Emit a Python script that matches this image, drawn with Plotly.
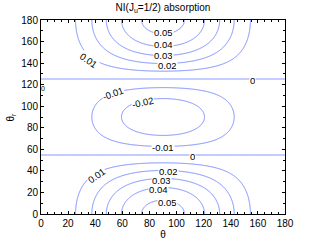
import numpy as np
import plotly.graph_objects as go

# Field: NI(J_u=1/2) absorption as a function of theta (x) and theta_r (y)
amplitude = 0.054
theta = np.linspace(0, 180, 361)
theta_r = np.linspace(0, 180, 361)
levels_start, levels_end, levels_step = -0.02, 0.05, 0.01
x_ticks = [0, 20, 40, 60, 80, 100, 120, 140, 160, 180]
y_ticks = [0, 20, 40, 60, 80, 100, 120, 140, 160, 180]

# contour label texts with where they sit on the plot (theta, theta_r, angle)
label_text = ["0.05", "0.04", "0.03", "0.02", "0.01", "0", "-0.01", "-0.02", "-0.01", "0",
              "0.01", "0.02", "0.03", "0.04", "0.05"]
label_x = [90, 90, 90, 93, 35, 156, 53, 75, 90, 112, 41, 94, 89, 87, 93]
label_y = [168, 157, 147.5, 138, 142, 124.3, 112, 103, 62, 53.8, 36, 39.5, 31, 22.5, 11]
label_angle = [0, 0, 0, 0, 35, 0, -20, -13, 0, 0, -35, 0, 0, 0, 0]

T, TR = np.meshgrid(np.radians(theta), np.radians(theta_r))
z = amplitude * (np.sin(T) ** 2 + 1e-9) * (3 * np.cos(TR) ** 2 - 1) / 2

line_col = "#7a8cff"
fig = go.Figure(go.Contour(
    x=theta, y=theta_r, z=z,
    contours=dict(start=levels_start, end=levels_end, size=levels_step,
                  coloring="lines", showlabels=False),
    colorscale=[[0, line_col], [1, line_col]],
    showscale=False, line=dict(width=1, dash="solid"),
    hoverinfo="skip",
))

for t, x, y, a in zip(label_text, label_x, label_y, label_angle):
    fig.add_annotation(x=x, y=y, text=t, showarrow=False, textangle=a,
                       bgcolor="white", borderpad=0, height=7 if a == 0 else None,
                       font=dict(size=9.5, family="Liberation Sans", color="black"))
fig.add_annotation(x=1.5, y=117, text="0", showarrow=False, height=6,
                   font=dict(size=7, family="Liberation Sans", color="black"))

# y-axis title placed as text left of the tick labels
fig.add_annotation(xref="paper", yref="paper", x=-0.125, y=0.5, text="θ<sub>r</sub>",
                   showarrow=False, textangle=-90, xanchor="center", yanchor="middle",
                   font=dict(size=10, family="Liberation Sans", color="black"))

axis_common = dict(
    showgrid=False, zeroline=False, showline=True, linecolor="black", linewidth=1,
    mirror="ticks", ticks="inside", ticklen=3, tickcolor="black", automargin=False,
    tickfont=dict(size=10, family="Liberation Sans", color="black"),
)
fig.update_xaxes(range=[0, 180], tickvals=x_ticks,
                 minor=dict(dtick=5, ticks="inside", ticklen=2, tickcolor="black"),
                 title=dict(text="θ", font=dict(size=10, family="Liberation Sans"), standoff=2),
                 **axis_common)
fig.update_yaxes(range=[0, 180], tickvals=y_ticks,
                 minor=dict(dtick=10, ticks="inside", ticklen=2, tickcolor="black"),
                 **axis_common)
fig.update_layout(
    width=316, height=242,
    margin=dict(l=41, r=31, t=20, b=28),
    paper_bgcolor="white", plot_bgcolor="white",
    title=dict(text="NI(J<sub>u</sub>=1/2) absorption", x=0.5, xref="paper", xanchor="center",
               y=0.985, yanchor="top",
               font=dict(size=10, family="Liberation Sans", color="black")),
    font=dict(family="Liberation Sans", color="black"),
)
fig.write_html("out.html", config={"displayModeBar": False},
               post_script="document.body.style.margin='0px';")
